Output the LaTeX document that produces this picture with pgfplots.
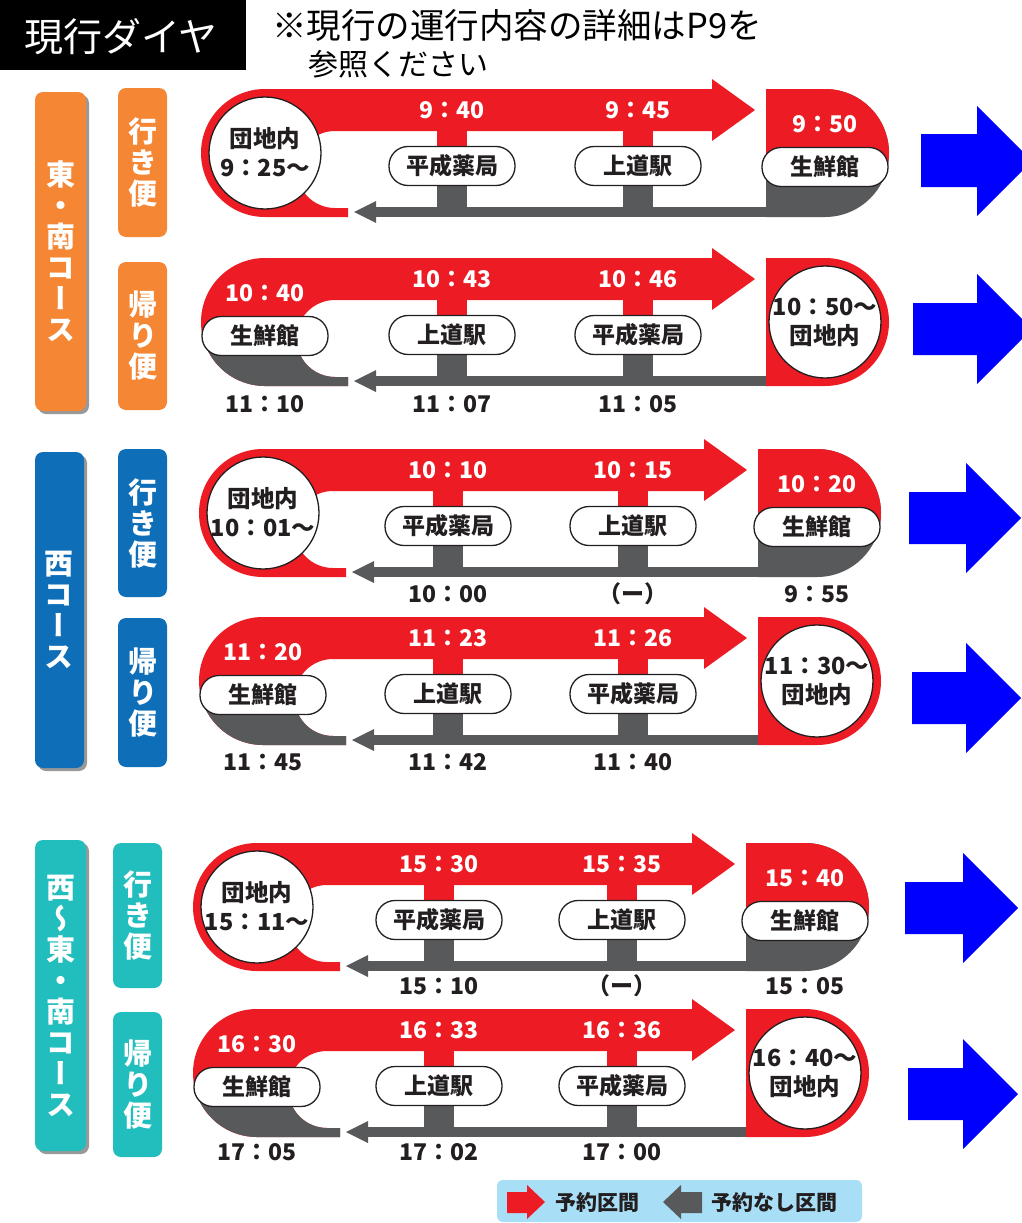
\documentclass[border=0pt]{standalone}
\usepackage{fontspec}
\setmainfont{Noto Sans CJK JP}
\newfontfamily\jpv{Noto Sans CJK JP}[RawFeature=+vert]
\usepackage{pgfplots}
\pgfplotsset{compat=1.18}
\definecolor{rd}{HTML}{ED1C24}
\definecolor{gy}{HTML}{58595B}
\definecolor{bl}{HTML}{0000FF}
\definecolor{org}{HTML}{F48634}
\definecolor{blu}{HTML}{0F6EB8}
\definecolor{tea}{HTML}{22BDBD}
\definecolor{lbl}{HTML}{A9DEF7}
\definecolor{txt}{HTML}{231F20}
\newcommand{\tfont}{\fontsize{23}{23}\selectfont\bfseries}
\newcommand{\sfont}{\fontsize{23}{23}\selectfont\bfseries}
\newcommand{\Pill}[3]{\node[draw=txt,line width=1.3pt,fill=white,rounded corners=19pt,minimum width=126pt,minimum height=39pt,inner sep=0pt,text=txt,font=\sfont] at (axis cs:#1,#2) {#3};}
\newcommand{\TW}[3]{\node[text=white,font=\tfont] at (axis cs:#1,#2) {#3};}
\newcommand{\TB}[3]{\node[text=txt,font=\tfont] at (axis cs:#1,#2) {#3};}
% common parts: T, xL, xA, xB, xR
\newcommand{\Common}[5]{%
 \fill[rd] (axis cs:{#5-112},#1) -- (axis cs:#2,#1) arc[start angle=90,end angle=270,radius=64pt] -- (axis cs:{#2+83},{#1+128}) -- (axis cs:{#2+83},{#1+119}) -- (axis cs:{#2+70},{#1+119}) arc[start angle=270,end angle=90,radius=38.5pt] -- (axis cs:{#5-112},{#1+42}) -- cycle;
 \fill[rd] (axis cs:{#5-113},{#1-10}) -- (axis cs:{#5-70},{#1+21}) -- (axis cs:{#5-113},{#1+52}) -- cycle;
 \fill[gy] (axis cs:{#2+110},{#1+118}) rectangle (axis cs:{#5-50},{#1+128});
 \fill[gy] (axis cs:{#2+89},{#1+123}) -- (axis cs:{#2+111},{#1+112}) -- (axis cs:{#2+111},{#1+134}) -- cycle;
 \fill[rd] (axis cs:{#3-15},{#1+40}) rectangle (axis cs:{#3+15},{#1+62});
 \fill[rd] (axis cs:{#4-15},{#1+40}) rectangle (axis cs:{#4+15},{#1+62});
 \fill[gy] (axis cs:{#3-15},{#1+92}) rectangle (axis cs:{#3+15},{#1+120});
 \fill[gy] (axis cs:{#4-15},{#1+92}) rectangle (axis cs:{#4+15},{#1+120});
}
% go row: T, xL, xA, xB, xR, circle time, A time, B time, R time
\newcommand{\GoRow}[9]{%
 \Common{#1}{#2}{#3}{#4}{#5}
 \fill[gy] (axis cs:{#5-59},#1) -- (axis cs:#5,#1) arc[start angle=90,end angle=-90,radius=64pt] -- (axis cs:{#5-59},{#1+128}) -- cycle;
 \fill[rd] (axis cs:{#5-59},#1) -- (axis cs:#5,#1) arc[start angle=90,end angle=-12.6,radius=64pt] -- (axis cs:{#5-59},{#1+78}) -- cycle;
 \draw[txt,line width=1.3pt,fill=white] (axis cs:#2,{#1+64}) circle[radius=56pt];
 \node[text=txt,font=\fontsize{23.5}{29}\selectfont\bfseries,align=center] at (axis cs:#2,{#1+63}) {団地内\\#6};
 \Pill{#3}{#1+77}{平成薬局}
 \Pill{#4}{#1+77}{上道駅}
 \Pill{#5}{#1+78}{生鮮館}
 \TW{#3}{#1+21}{#7}
 \TW{#4}{#1+21}{#8}
 \TW{#5}{#1+35}{#9}
}
% return row: T, xL, xA, xB, xR, L time, A time, B time, circle time
\newcommand{\BackRow}[9]{%
 \Common{#1}{#2}{#3}{#4}{#5}
 \fill[gy] (axis cs:{#2-62.4},{#1+78}) arc[start angle=192.6,end angle=270,radius=64pt] -- (axis cs:{#2+83},{#1+128}) -- (axis cs:{#2+83},{#1+119}) -- (axis cs:{#2+70},{#1+119}) arc[start angle=270,end angle=176,radius=38.5pt] -- cycle;
 \fill[rd] (axis cs:{#5-59},#1) -- (axis cs:#5,#1) arc[start angle=90,end angle=-90,radius=64pt] -- (axis cs:{#5-59},{#1+128}) -- cycle;
 \draw[txt,line width=1.3pt,fill=white] (axis cs:#5,{#1+64}) circle[radius=56pt];
 \node[text=txt,font=\fontsize{23.5}{29}\selectfont\bfseries,align=center] at (axis cs:#5,{#1+64}) {#9\\団地内};
 \Pill{#2}{#1+78}{生鮮館}
 \Pill{#3}{#1+77}{上道駅}
 \Pill{#4}{#1+77}{平成薬局}
 \TW{#2}{#1+35}{#6}
 \TW{#3}{#1+21}{#7}
 \TW{#4}{#1+21}{#8}
}
\newcommand{\VBox}[6]{% x1,y1,x2,y2,color,text
 \fill[#5,rounded corners=8pt] (axis cs:#1,#2) rectangle (axis cs:#3,#4);
 \node[text=white,font=\jpv\fontsize{29}{31}\selectfont\bfseries,align=center,inner sep=0pt] at (axis cs:{(#1+#3)/2},{(#2+#4)/2}) {#6};
}
\begin{document}
\begin{tikzpicture}
\begin{axis}[width=1022pt,height=1223pt,scale only axis,
 xmin=0,xmax=1022,ymin=0,ymax=1223,y dir=reverse,hide axis,clip=true]
% title
\fill[black] (axis cs:0,0) rectangle (axis cs:246,70);
\node[text=white,font=\fontsize{39}{39}\selectfont] at (axis cs:121,37) {現行ダイヤ};
\node[text=black,font=\fontsize{34.5}{34}\selectfont,anchor=west,inner sep=0pt] at (axis cs:272,25) {※現行の運行内容の詳細はP9を};
\node[text=black,font=\fontsize{30}{30}\selectfont,anchor=west,inner sep=0pt] at (axis cs:308,64) {参照ください};
% course boxes
\fill[black!40,rounded corners=8pt] (axis cs:38,95) rectangle (axis cs:89,414);
\VBox{35}{92}{86}{411}{org}{東\\・\\南\\コ\\ー\\ス}
\VBox{118}{88}{167}{237}{org}{行\\き\\便}
\VBox{118}{262}{167}{410}{org}{帰\\り\\便}
\fill[black!40,rounded corners=8pt] (axis cs:38,455) rectangle (axis cs:87,771);
\VBox{35}{452}{84}{768}{blu}{西\\コ\\ー\\ス}
\VBox{118}{449}{167}{597}{blu}{行\\き\\便}
\VBox{118}{618}{167}{767}{blu}{帰\\り\\便}
\fill[black!40,rounded corners=8pt] (axis cs:38,843) rectangle (axis cs:89,1154);
\VBox{35}{840}{86}{1151}{tea}{西\\〜\\東\\・\\南\\コ\\ー\\ス}
\VBox{113}{843}{162}{988}{tea}{行\\き\\便}
\VBox{113}{1012}{162}{1157}{tea}{帰\\り\\便}
% rows
\GoRow{89}{265}{452}{638}{825}{9：25〜}{9：40}{9：45}{9：50}
\BackRow{258}{265}{452}{638}{825}{10：40}{10：43}{10：46}{10：50〜}
\TB{265}{404}{11：10}\TB{452}{404}{11：07}\TB{638}{404}{11：05}
\GoRow{449}{263}{448}{633}{817}{10：01〜}{10：10}{10：15}{10：20}
\TB{448}{594}{10：00}\TB{633}{594}{（ー）}\TB{817}{594}{9：55}
\BackRow{617}{263}{448}{633}{817}{11：20}{11：23}{11：26}{11：30〜}
\TB{263}{762}{11：45}\TB{448}{762}{11：42}\TB{633}{762}{11：40}
\GoRow{843}{257}{439}{622}{805}{15：11〜}{15：30}{15：35}{15：40}
\TB{439}{986}{15：10}\TB{622}{986}{（ー）}\TB{805}{986}{15：05}
\BackRow{1009}{257}{439}{622}{805}{16：30}{16：33}{16：36}{16：40〜}
\TB{257}{1152}{17：05}\TB{439}{1152}{17：02}\TB{622}{1152}{17：00}
% blue arrows
\addplot[fill=bl,draw=none] coordinates {(921,134) (977,134) (977,106) (1032,161) (977,216) (977,187) (921,187)} -- cycle;
\addplot[fill=bl,draw=none] coordinates {(913,303) (977,303) (977,274) (1032,329) (977,384) (977,355) (913,355)} -- cycle;
\addplot[fill=bl,draw=none] coordinates {(909,492) (966,492) (966,463) (1021,518) (966,573) (966,544) (909,544)} -- cycle;
\addplot[fill=bl,draw=none] coordinates {(912,672) (966,672) (966,643) (1021,698) (966,753) (966,724) (912,724)} -- cycle;
\addplot[fill=bl,draw=none] coordinates {(905,882) (963,882) (963,853) (1018,908) (963,963) (963,934) (905,934)} -- cycle;
\addplot[fill=bl,draw=none] coordinates {(908,1068) (963,1068) (963,1039) (1018,1094) (963,1149) (963,1120) (908,1120)} -- cycle;
% legend
\fill[lbl,rounded corners=6pt] (axis cs:497,1180) rectangle (axis cs:862,1222);
\addplot[fill=rd,draw=none] coordinates {(507,1192) (527,1192) (527,1185) (545,1202) (527,1219) (527,1213) (507,1213)} -- cycle;
\addplot[fill=gy,draw=none] coordinates {(702,1192) (681,1192) (681,1185) (663,1202) (681,1219) (681,1213) (702,1213)} -- cycle;
\node[text=txt,font=\fontsize{21}{21}\selectfont\bfseries] at (axis cs:597,1202) {予約区間};
\node[text=txt,font=\fontsize{21}{21}\selectfont\bfseries] at (axis cs:774,1202) {予約なし区間};
\end{axis}
\pgfresetboundingbox
\useasboundingbox (current axis.south west) rectangle (current axis.north east);
\end{tikzpicture}
\end{document}
